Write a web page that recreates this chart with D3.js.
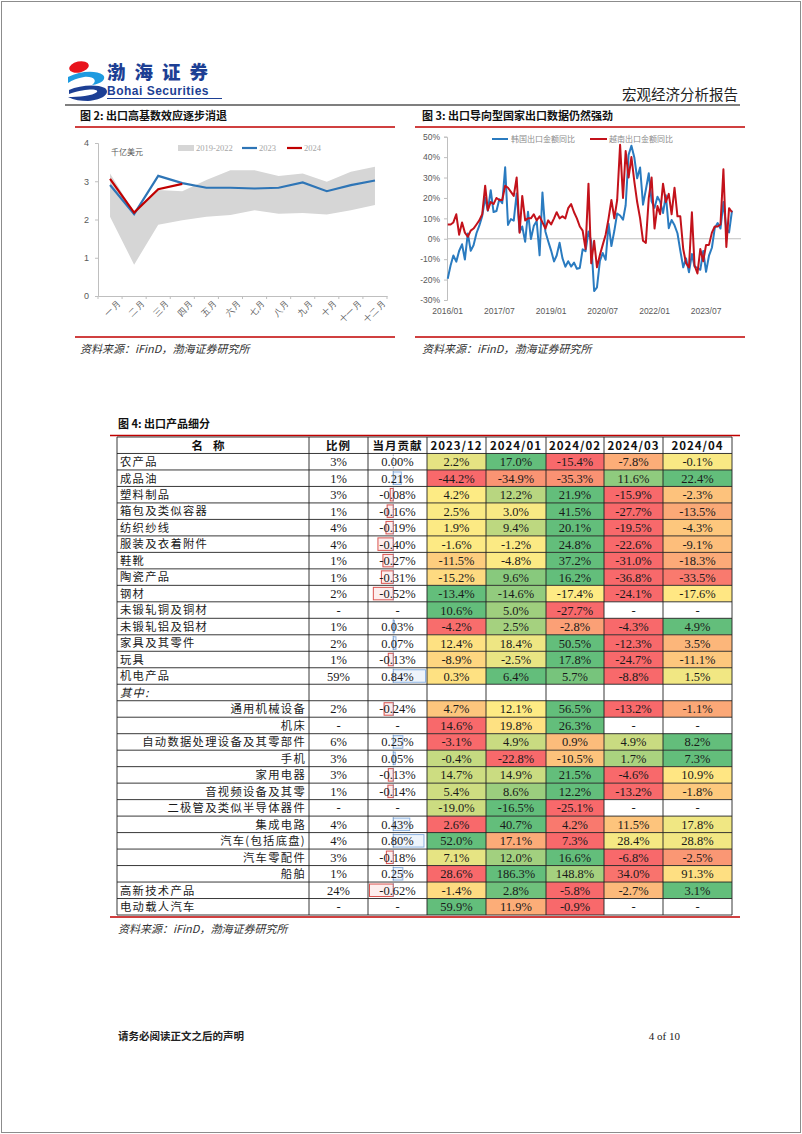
<!DOCTYPE html>
<html lang="zh">
<head>
<meta charset="UTF-8">
<title>出口产品细分</title>
<style>
  body { margin: 0; background: #fff; }
  svg { display: block; font-family: "Noto Sans CJK SC", sans-serif; }
  .serif { font-family: "Liberation Serif", "Times New Roman", serif; }
  .arial { font-family: "Liberation Sans", Arial, sans-serif; }
</style>
</head>
<body>
<svg id="page" width="802" height="1134"></svg>
<script src="https://cdn.jsdelivr.net/npm/d3@7/dist/d3.min.js"></script>
<script>
// ---- 图2 数据 (千亿美元)
const months2 = ['一月','二月','三月','四月','五月','六月','七月','八月','九月','十月','十一月','十二月'];
const band1922Min = [2.07, 0.82, 1.86, 1.98, 2.07, 2.12, 2.24, 2.15, 2.17, 2.13, 2.24, 2.38];
const band1922Max = [3.2, 2.18, 2.77, 2.74, 3.03, 3.29, 3.29, 3.14, 3.2, 2.99, 3.25, 3.38];
const exp2023 = [2.9, 2.14, 3.14, 2.95, 2.83, 2.83, 2.81, 2.83, 2.97, 2.74, 2.9, 3.02];
const exp2024 = [3.06, 2.18, 2.79, 2.93];

// ---- 图3 数据 (同比 %, 2016/01 - 2024/04)
const startMonth3 = new Date(2016, 0, 1);
const koreaYoY = [
  -19.6,-13.0,-8.2,-11.2,-6.0,-2.7,-10.2,2.6,-5.9,-3.2,2.7,6.4,
  11.2,20.2,13.7,23.8,13.1,13.6,19.4,17.4,35.0,6.8,9.6,8.9,
  22.2,3.3,6.0,-1.5,13.2,-0.1,6.2,8.7,-8.1,22.7,3.6,-1.2,
  -5.8,-11.1,-8.2,-2.0,-9.5,-13.7,-11.0,-13.6,-11.7,-14.7,-14.3,-5.2,
  -6.1,3.6,-1.4,-25.6,-23.8,-10.9,-7.0,-10.3,7.3,-3.6,3.9,12.4,
  11.4,9.3,16.4,41.1,45.6,39.8,29.6,34.9,16.7,24.0,32.1,18.3,
  15.2,20.6,18.2,12.6,21.3,5.2,9.2,6.6,2.7,-5.8,-14.0,-9.6,
  -16.4,-7.5,-13.6,-14.3,-15.2,-6.0,-16.2,-8.3,-4.4,5.1,7.7,5.0,
  18.0,4.8,3.1,13.8
];
const vietnamYoY = [
  7,7,8,12,2,8,3,1,4,5,7,9,
  12,26,14,18,17,20,19,19,26,25,23,21,
  30,3,21,9,10,10,12,9,11,8,5,9,
  7,10,13,10,11,10,15,17,13,10,6,4,
  -5,27,-12,-1,-14,-8,-3,2,10,19,10,19,
  46,20,43,30,40,28,18,10,-1,-2,20,30,
  5,16,12,27,18,22,12,25,11,11,-5,-12,
  -14,13,-13,-17,-5,-11,-3,-3,3,6,6,7,
  34,-4,15,13
];
const ticks3 = ['2016/01','2017/07','2019/01','2020/07','2022/01','2023/07'];

// ---- 图4 数据
const headers = ['名称','比例','当月贡献','2023/12','2024/01','2024/02','2024/03','2024/04'];
const names = ['农产品','成品油','塑料制品','箱包及类似容器','纺织纱线','服装及衣着附件','鞋靴','陶瓷产品','钢材',
  '未锻轧铜及铜材','未锻轧铝及铝材','家具及其零件','玩具','机电产品','其中:','通用机械设备','机床',
  '自动数据处理设备及其零部件','手机','家用电器','音视频设备及其零','二极管及类似半导体器件','集成电路',
  '汽车(包括底盘)','汽车零配件','船舶','高新技术产品','电动载人汽车'];
// 0 = 大类, 1 = 机电产品下的子项, 2 = 分组标题
const level = [0,0,0,0,0,0,0,0,0,0,0,0,0,0,2,1,1,1,1,1,1,1,1,1,1,1,0,0];
const share = [3,1,3,1,4,4,1,1,2,null,1,2,1,59,null,2,null,6,3,3,1,null,4,4,3,1,24,null];
const contrib = [0.00,0.21,-0.08,-0.16,-0.19,-0.40,-0.27,-0.31,-0.52,null,0.03,0.07,-0.13,0.84,null,
  -0.24,null,0.25,0.05,-0.13,-0.14,null,0.43,0.80,-0.18,0.25,-0.62,null];
const m202312 = [2.2,-44.2,4.2,2.5,1.9,-1.6,-11.5,-15.2,-13.4,10.6,-4.2,12.4,-8.9,0.3,null,4.7,14.6,-3.1,-0.4,14.7,5.4,-19.0,2.6,52.0,7.1,28.6,-1.4,59.9];
const m202401 = [17.0,-34.9,12.2,3.0,9.4,-1.2,-4.8,9.6,-14.6,5.0,2.5,18.4,-2.5,6.4,null,12.1,19.8,4.9,-22.8,14.9,8.6,-16.5,40.7,17.1,12.0,186.3,2.8,11.9];
const m202402 = [-15.4,-35.3,21.9,41.5,20.1,24.8,37.2,16.2,-17.4,-27.7,-2.8,50.5,17.8,5.7,null,56.5,26.3,0.9,-10.5,21.5,12.2,-25.1,4.2,7.3,16.6,148.8,-5.8,-0.9];
const m202403 = [-7.8,11.6,-15.9,-27.7,-19.5,-22.6,-31.0,-36.8,-24.1,null,-4.3,-12.3,-24.7,-8.8,null,-13.2,null,4.9,1.7,-4.6,-13.2,null,11.5,28.4,-6.8,34.0,-2.7,null];
const m202404 = [-0.1,22.4,-2.3,-13.5,-4.3,-9.1,-18.3,-33.5,-17.6,null,4.9,3.5,-11.1,1.5,null,-1.1,null,8.2,7.3,10.9,-1.8,null,17.8,28.8,-2.5,91.3,3.1,null];
const monthSeries = [m202312, m202401, m202402, m202403, m202404];

const RED = '#c00000';
// plain hyphen for negatives, like the report
const fmtLocale = d3.formatLocale({ decimal: '.', thousands: ',', grouping: [3], currency: ['', ''], minus: '-' });
const svg = d3.select('#page');

// page frame
svg.append('rect').attr('x', 1.5).attr('y', 1.5).attr('width', 799).attr('height', 1131)
  .attr('fill', '#fff').attr('stroke', '#8c8c8c');

// ---------- header
const logo = svg.append('g').attr('transform', 'translate(66,59)');
logo.append('ellipse').attr('cx', 13).attr('cy', 8).attr('rx', 10).attr('ry', 5.5)
  .attr('transform', 'rotate(-12,13,8)').attr('fill', '#e8141c');
logo.append('path')
  .attr('d', 'M2,18 C14,12 30,11 37,16 C41,20 35,25 26,26 C32,22 28,17 18,18 C12,19 6,21 2,24 Z')
  .attr('fill', '#1e9be0');
logo.append('path')
  .attr('d', 'M3,31 C14,26 31,25 39,29 C45,34 37,41 22,42 C15,42 8,41 2,38 C12,38 27,37 31,33 C33,30 22,29 3,35 Z')
  .attr('fill', '#1d3f94');
svg.append('text').attr('x', 107).attr('y', 79).text('渤海证券')
  .attr('font-size', 18.5).attr('font-weight', 900).attr('fill', '#1d3f94').attr('letter-spacing', 9);
svg.append('text').attr('class', 'arial').attr('x', 107).attr('y', 95).text('Bohai Securities')
  .attr('font-size', 12).attr('font-weight', 700).attr('fill', '#1d3f94').attr('letter-spacing', 0.5);
svg.append('line').attr('x1', 107).attr('x2', 222).attr('y1', 98.5).attr('y2', 98.5)
  .attr('stroke', '#1d3f94').attr('stroke-width', 1);
svg.append('text').attr('x', 738).attr('y', 100).attr('text-anchor', 'end').text('宏观经济分析报告')
  .attr('font-size', 14.5).attr('fill', '#222');
svg.append('line').attr('x1', 65).attr('x2', 740).attr('y1', 105).attr('y2', 105)
  .attr('stroke', '#555').attr('stroke-width', 1.5);

// ---------- figure titles & source lines
function figTitle(x, y, label) {
  svg.append('text').attr('x', x).attr('y', y).text(label)
    .attr('font-size', 11).attr('font-weight', 700).attr('fill', '#111');
}
function redLine(x1, x2, y) {
  svg.append('line').attr('x1', x1).attr('x2', x2).attr('y1', y).attr('y2', y)
    .attr('stroke', RED).attr('stroke-width', 1.5);
}
function source(x, y) {
  svg.append('text').attr('x', x).attr('y', y).text('资料来源：iFinD，渤海证券研究所')
    .attr('font-size', 11).attr('font-style', 'italic').attr('fill', '#333');
}
figTitle(80, 120, '图 2:  出口高基数效应逐步消退');
figTitle(422, 120, '图 3:  出口导向型国家出口数据仍然强劲');
redLine(75, 395, 127);
redLine(415, 745, 127);
redLine(75, 395, 337);
redLine(415, 745, 337);
source(80, 353);
source(422, 353);

// ---------- 图2
const x2 = d3.scaleBand().domain(months2).range([98, 387]);
const y2 = d3.scaleLinear().domain([0, 4]).range([296, 143]);
const cx2 = m => x2(m) + x2.bandwidth() / 2;
const g2 = svg.append('g');

const bandData = months2.map((m, i) => ({ m, lo: band1922Min[i], hi: band1922Max[i] }));
g2.append('path').datum(bandData)
  .attr('d', d3.area().x(d => cx2(d.m)).y0(d => y2(d.lo)).y1(d => y2(d.hi)))
  .attr('fill', '#d6d6d6');

const yAx2 = g2.append('g').attr('transform', 'translate(98,0)')
  .call(d3.axisLeft(y2).tickValues([0, 1, 2, 3, 4]).tickFormat(d3.format('d')).tickSize(3).tickPadding(6));
yAx2.selectAll('text').attr('class', 'arial').attr('font-size', 9).attr('fill', '#595959');
yAx2.selectAll('line,path').attr('stroke', '#bfbfbf');

const xAx2 = g2.append('g').attr('transform', 'translate(0,296)')
  .call(d3.axisBottom(x2).tickSize(0).tickPadding(6));
xAx2.select('.domain').attr('stroke', '#bfbfbf');
xAx2.selectAll('text').attr('font-size', 8.5).attr('fill', '#595959')
  .attr('text-anchor', 'end').attr('dy', '0.3em')
  .attr('transform', 'translate(5,2) rotate(-45)');
g2.selectAll('.xtick2').data(months2.concat([null])).join('line')
  .attr('x1', (d, i) => x2.range()[0] + i * x2.step()).attr('x2', (d, i) => x2.range()[0] + i * x2.step())
  .attr('y1', 296).attr('y2', 299).attr('stroke', '#bfbfbf');

const line2 = d3.line().x((d, i) => cx2(months2[i])).y(d => y2(d));
g2.append('path').datum(exp2023).attr('d', line2).attr('fill', 'none')
  .attr('stroke', '#2e75b6').attr('stroke-width', 2.2);
g2.append('path').datum(exp2024).attr('d', line2).attr('fill', 'none')
  .attr('stroke', RED).attr('stroke-width', 2.2);

g2.append('text').attr('x', 111).attr('y', 155).text('千亿美元').attr('font-size', 8).attr('fill', '#595959');
g2.append('rect').attr('x', 178).attr('y', 145).attr('width', 16).attr('height', 6).attr('fill', '#d6d6d6');
g2.append('text').attr('class', 'serif').attr('x', 196).attr('y', 151).text('2019-2022')
  .attr('font-size', 8.5).attr('fill', '#a6a6a6');
g2.append('line').attr('x1', 242).attr('x2', 257).attr('y1', 148).attr('y2', 148)
  .attr('stroke', '#2e75b6').attr('stroke-width', 2.2);
g2.append('text').attr('class', 'serif').attr('x', 259).attr('y', 151).text('2023')
  .attr('font-size', 8.5).attr('fill', '#a6a6a6');
g2.append('line').attr('x1', 287).attr('x2', 302).attr('y1', 148).attr('y2', 148)
  .attr('stroke', RED).attr('stroke-width', 2.2);
g2.append('text').attr('class', 'serif').attr('x', 304).attr('y', 151).text('2024')
  .attr('font-size', 8.5).attr('fill', '#a6a6a6');

// ---------- 图3
const dates3 = koreaYoY.map((d, i) => d3.timeMonth.offset(startMonth3, i));
const parse3 = d3.timeParse('%Y/%m');
const x3 = d3.scaleTime().domain([dates3[0], dates3[dates3.length - 1]]).range([447.7, 732]);
const y3 = d3.scaleLinear().domain([-30, 50]).range([300, 136.7]);
const g3 = svg.append('g');

const yAx3 = g3.append('g').attr('transform', 'translate(447,0)')
  .call(d3.axisLeft(y3).tickValues(d3.range(-30, 51, 10)).tickFormat(d => d + '%').tickSize(3).tickPadding(4));
yAx3.selectAll('text').attr('class', 'arial').attr('font-size', 8.5).attr('fill', '#595959');
yAx3.selectAll('line,path').attr('stroke', '#bfbfbf');
g3.append('line').attr('x1', 447).attr('x2', 741).attr('y1', y3(0)).attr('y2', y3(0))
  .attr('stroke', '#bfbfbf');
g3.selectAll('.xl3').data(ticks3).join('text')
  .attr('class', 'arial').attr('x', d => x3(parse3(d))).attr('y', 314)
  .attr('text-anchor', 'middle').attr('font-size', 8.5).attr('fill', '#595959').text(d => d);

const line3 = d3.line().x((d, i) => x3(dates3[i])).y(d => y3(d));
g3.append('path').datum(koreaYoY).attr('d', line3).attr('fill', 'none')
  .attr('stroke', '#2a7bc0').attr('stroke-width', 2).attr('stroke-linejoin', 'round');
g3.append('path').datum(vietnamYoY).attr('d', line3).attr('fill', 'none')
  .attr('stroke', '#c3121b').attr('stroke-width', 2).attr('stroke-linejoin', 'round');

g3.append('line').attr('x1', 492).attr('x2', 508).attr('y1', 139).attr('y2', 139)
  .attr('stroke', '#2a7bc0').attr('stroke-width', 2);
g3.append('text').attr('x', 511).attr('y', 142).text('韩国出口金额同比').attr('font-size', 8).attr('fill', '#8c8c8c');
g3.append('line').attr('x1', 590).attr('x2', 607).attr('y1', 139).attr('y2', 139)
  .attr('stroke', '#c3121b').attr('stroke-width', 2);
g3.append('text').attr('x', 609).attr('y', 142).text('越南出口金额同比').attr('font-size', 8).attr('fill', '#8c8c8c');

// ---------- 图4 table
figTitle(118, 428, '图 4:  出口产品细分');
redLine(110, 740, 435.5);

const colEdges = [117, 309, 368, 427, 486, 546, 604, 663, 732];
const colMid = i => (colEdges[i] + colEdges[i + 1]) / 2;
const rowY = d3.scaleBand().domain(d3.range(names.length + 1)).range([437, 915]);
const rh = rowY.bandwidth();
const tbl = svg.append('g');

// colour scale per row (red - yellow - green, midpoint = mean)
const rowColor = names.map((n, r) => {
  const vals = monthSeries.map(s => s[r]).filter(v => v != null);
  if (vals.length < 2) return null;
  return d3.scaleLinear().domain([d3.min(vals), d3.mean(vals), d3.max(vals)])
    .range(['#f8696b', '#ffeb84', '#63be7b']).clamp(true);
});
monthSeries.forEach((s, c) => {
  tbl.selectAll(null).data(s).join('rect')
    .attr('x', colEdges[3 + c]).attr('y', (d, r) => rowY(r + 1))
    .attr('width', colEdges[4 + c] - colEdges[3 + c]).attr('height', rh)
    .attr('fill', (d, r) => d == null || !rowColor[r] ? '#fff' : rowColor[r](d));
});

// data bars for 当月贡献
const cx = d3.scaleLinear().domain([d3.min(contrib), d3.max(contrib)]).range([369.5, 425.5]);
const barRows = contrib.map((v, r) => ({ v, r })).filter(d => d.v != null);
tbl.selectAll('.bar').data(barRows.filter(d => d.v !== 0)).join('rect')
  .attr('x', d => Math.min(cx(0), cx(d.v))).attr('y', d => rowY(d.r + 1) + 2)
  .attr('width', d => Math.abs(cx(d.v) - cx(0))).attr('height', rh - 4)
  .attr('fill', d => d.v < 0 ? '#fdeeee' : '#eef4fb')
  .attr('stroke', d => d.v < 0 ? '#d9534f' : '#8db3e2').attr('stroke-width', 1);
tbl.selectAll('.baxis').data(barRows).join('line')
  .attr('x1', cx(0)).attr('x2', cx(0))
  .attr('y1', d => rowY(d.r + 1) + 1).attr('y2', d => rowY(d.r + 1) + rh - 1)
  .attr('stroke', '#6d8fb5').attr('stroke-width', 0.8).attr('stroke-dasharray', '1.5,1');

// grid
tbl.selectAll('.hl').data(d3.range(names.length + 2)).join('line')
  .attr('x1', colEdges[0]).attr('x2', colEdges[colEdges.length - 1])
  .attr('y1', i => i <= names.length ? rowY(i) : rowY(names.length) + rh)
  .attr('y2', i => i <= names.length ? rowY(i) : rowY(names.length) + rh)
  .attr('stroke', '#222').attr('stroke-width', 0.9);
tbl.selectAll('.vl').data(colEdges).join('line')
  .attr('x1', d => d).attr('x2', d => d).attr('y1', 437).attr('y2', 915)
  .attr('stroke', '#222').attr('stroke-width', 0.9);

// header texts
tbl.selectAll('.ht').data(headers).join('text')
  .attr('x', (d, i) => colMid(i)).attr('y', rowY(0) + rh / 2 + 4.5)
  .attr('text-anchor', 'middle').attr('font-size', 11.5).attr('font-weight', 700)
  .attr('letter-spacing', (d, i) => i === 0 ? 10 : 1).attr('fill', '#111').text(d => d);

// name column
tbl.selectAll('.nt').data(names).join('text')
  .attr('x', (d, r) => level[r] === 1 ? colEdges[1] - 3 : colEdges[0] + 3)
  .attr('y', (d, r) => rowY(r + 1) + rh / 2 + 4.3)
  .attr('text-anchor', (d, r) => level[r] === 1 ? 'end' : 'start')
  .attr('font-style', (d, r) => level[r] === 2 ? 'italic' : 'normal')
  .attr('letter-spacing', 1.3).attr('font-size', 11.3).attr('fill', '#1a1a1a').text(d => d);

function valueCol(data, col, fmt) {
  tbl.selectAll(null).data(data).join('text')
    .attr('class', 'serif')
    .attr('x', colMid(col)).attr('y', (d, r) => rowY(r + 1) + rh / 2 + 4.5)
    .attr('text-anchor', 'middle').attr('font-size', 12.5).attr('fill', '#1a1a1a')
    .text((d, r) => level[r] === 2 ? '' : d == null ? '-' : fmt(d));
}
valueCol(share, 1, d => d + '%');
valueCol(contrib, 2, d => fmtLocale.format('.2f')(d) + '%');
monthSeries.forEach((s, c) => valueCol(s, 3 + c, d => fmtLocale.format('.1f')(d) + '%'));

redLine(110, 740, 917);
source(118, 933);

// ---------- footer
svg.append('text').attr('x', 118).attr('y', 1040).text('请务必阅读正文之后的声明')
  .attr('font-size', 10.5).attr('font-weight', 700).attr('fill', '#222');
svg.append('text').attr('class', 'serif').attr('x', 680).attr('y', 1040).attr('text-anchor', 'end')
  .text('4 of 10').attr('font-size', 11).attr('fill', '#222');
</script>
</body>
</html>
